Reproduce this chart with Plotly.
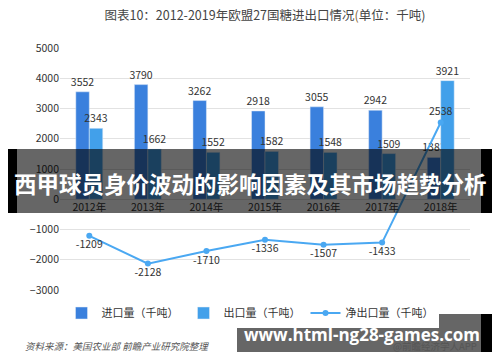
import plotly.graph_objects as go

years = ["2012年", "2013年", "2014年", "2015年", "2016年", "2017年", "2018年"]
imports = [3552, 3790, 3262, 2918, 3055, 2942, 1383]
exports = [2343, 1662, 1552, 1582, 1548, 1509, 3921]
net = [-1209, -2128, -1710, -1336, -1507, -1433, 2538]
net_pos = ["bottom center"] * 6 + ["top center"]

W, H = 500, 362
L, R, T, B = 60, 30, 48, 72
PW, PH = W - L - R, H - T - B


def px(x):
    return (x - L) / PW


def py(y):
    return (H - B - y) / PH


FONT = "Noto Sans CJK SC, Microsoft YaHei, sans-serif"

fig = go.Figure()
fig.add_trace(go.Bar(
    x=years, y=imports, name="进口量（千吨）", marker_color="#3a80dd",
    text=imports, textposition="outside", cliponaxis=False, constraintext="none",
    textfont=dict(size=10.5, color="#333")))
fig.add_trace(go.Bar(
    x=years, y=exports, name="出口量（千吨）", marker_color="#42a0ea",
    text=exports, textposition="outside", cliponaxis=False, constraintext="none",
    textfont=dict(size=10.5, color="#333")))
fig.add_trace(go.Scatter(
    x=years, y=net, name="净出口量（千吨）", mode="lines+markers+text",
    line=dict(color="#4aa8f2", width=2), marker=dict(size=6, color="#4aa8f2"),
    text=net, textposition=net_pos, cliponaxis=False,
    textfont=dict(size=10.5, color="#333")))

fig.update_layout(
    width=W, height=H, margin=dict(l=L, r=R, t=T, b=B, autoexpand=False),
    paper_bgcolor="white", plot_bgcolor="white",
    font=dict(family=FONT, size=10, color="#333"),
    barmode="group", bargap=0.54, bargroupgap=0,
    showlegend=True,
    legend=dict(orientation="h", x=px(250), xanchor="center", y=py(313), yanchor="middle",
                font=dict(size=11, color="#333"), traceorder="normal"),
    title=dict(text="图表10：2012-2019年欧盟27国糖进出口情况<span style='color:#8a6a3a'>(</span>单位：千吨)",
               x=0.5, xref="paper", xanchor="center", y=1 - 16 / H, yanchor="middle",
               font=dict(size=12.5, color="#444")),
    xaxis=dict(anchor="free", position=3000 / 8000, showgrid=False, showline=False,
               ticks="", tickfont=dict(size=10.5, color="#333"), fixedrange=True),
    yaxis=dict(range=[-3000, 5000], dtick=1000, showgrid=True, gridcolor="#e2e2e2",
               gridwidth=1, zeroline=False, ticks="", showline=False,
               tickfont=dict(size=10.5, color="#333")),
)

fig.add_annotation(text="<i>资料来源：美国农业部 前瞻产业研究院整理</i>", xref="paper", yref="paper",
                   x=px(23), y=py(346), xanchor="left", yanchor="middle", showarrow=False,
                   font=dict(size=9.5, color="#555"))
fig.add_annotation(text="@前瞻经济学人APP", xref="paper", yref="paper",
                   x=px(479), y=py(346), xanchor="right", yanchor="middle", showarrow=False,
                   font=dict(size=9.5, color="#555"))

# overlay banners
shapes = [
    dict(x0=17, x1=481, y0=149, y1=213, fill="rgba(0,0,0,0.6)"),
    dict(x0=8, x1=17, y0=149, y1=213, fill="black"),
    dict(x0=481, x1=492, y0=149, y1=213, fill="black"),
    dict(x0=237, x1=481, y0=314, y1=352, fill="rgba(0,0,0,0.6)"),
    dict(x0=481, x1=492, y0=314, y1=352, fill="black"),
]
for s in shapes:
    fig.add_shape(type="rect", xref="paper", yref="paper",
                  x0=px(s["x0"]), x1=px(s["x1"]), y0=py(s["y1"]), y1=py(s["y0"]),
                  fillcolor=s["fill"], line_width=0, layer="above")

fig.add_annotation(text="<b>西甲球员身价波动的影响因素及其市场趋势分析</b>", xref="paper", yref="paper",
                   x=px(250), y=py(183), xanchor="center", yanchor="middle", showarrow=False,
                   font=dict(size=22.5, color="white", family=FONT))
fig.add_annotation(text="<b>www.html-ng28-games.com</b>", xref="paper", yref="paper",
                   x=px(362), y=py(334), xanchor="center", yanchor="middle", showarrow=False,
                   font=dict(size=17, color="white", family="Open Sans, DejaVu Sans, sans-serif"))

fig.write_html("out.html", config={"displayModeBar": False},
               post_script="document.body.style.margin='0';document.body.style.padding='0';")
